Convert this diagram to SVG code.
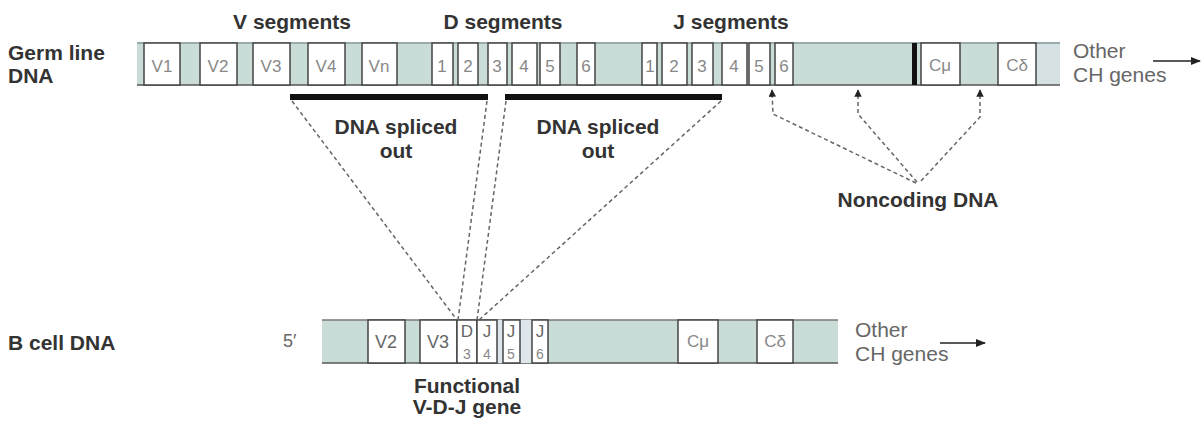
<svg xmlns="http://www.w3.org/2000/svg" width="1204" height="423" viewBox="0 0 1204 423">
<defs>
<marker id="ah" viewBox="0 0 10 10" refX="9" refY="5" markerWidth="5" markerHeight="5" orient="auto-start-reverse">
<path d="M0,0 L10,5 L0,10 z" fill="#222"/>
</marker>
<marker id="ar" viewBox="0 0 10 10" refX="9" refY="5" markerWidth="7" markerHeight="7" orient="auto">
<path d="M0,1 L10,5 L0,9 z" fill="#222"/>
</marker>
</defs>
<style>
.lbl{font-family:"Liberation Sans",Arial,sans-serif;font-weight:bold;font-size:21px;fill:#333}
.reg{font-family:"Liberation Sans",Arial,sans-serif;font-size:21px;fill:#666}
.box{fill:#fff;stroke:#444;stroke-width:1.5}
.bt{font-family:"Liberation Sans",Arial,sans-serif;font-size:17px;fill:#888;text-anchor:middle}
.bg{fill:#c9dcd8}
.dash{fill:none;stroke:#666;stroke-width:1.5;stroke-dasharray:4 3}
.bar{fill:#111}
</style>

<g id="germline-label">
<text class="lbl" x="8" y="60">Germ line</text>
<text class="lbl" x="8" y="83">DNA</text>
</g>
<g id="segment-headers">
<text class="lbl" x="292" y="29" text-anchor="middle">V segments</text>
<text class="lbl" x="503" y="29" text-anchor="middle">D segments</text>
<text class="lbl" x="731" y="29" text-anchor="middle">J segments</text>
</g>

<g id="germline-dna">
<rect class="bg" x="137" y="43" width="900" height="42"/>
<rect x="1036" y="43" width="24" height="42" fill="#d6e1e3"/>
<line x1="137" y1="43" x2="1060" y2="43" stroke="#9aa" stroke-width="2"/>
<line x1="137" y1="85" x2="1060" y2="85" stroke="#555" stroke-width="1.5"/>
<rect class="box" x="144" y="43" width="36" height="42"/><text class="bt" x="162" y="72">V1</text>
<rect class="box" x="200" y="43" width="37" height="42"/><text class="bt" x="218" y="72">V2</text>
<rect class="box" x="253" y="43" width="37" height="42"/><text class="bt" x="271" y="72">V3</text>
<rect class="box" x="308" y="43" width="37" height="42"/><text class="bt" x="326" y="72">V4</text>
<rect class="box" x="362" y="43" width="35" height="42"/><text class="bt" x="379" y="72">Vn</text>
<rect class="box" x="432" y="43" width="21" height="42"/><text class="bt" x="442" y="72">1</text>
<rect class="box" x="458" y="43" width="20" height="42"/><text class="bt" x="468" y="72">2</text>
<rect class="box" x="488" y="43" width="19" height="42"/><text class="bt" x="497" y="72">3</text>
<rect class="box" x="512" y="43" width="25" height="42"/><text class="bt" x="524" y="72">4</text>
<rect class="box" x="540" y="43" width="20" height="42"/><text class="bt" x="550" y="72">5</text>
<rect class="box" x="577" y="43" width="18" height="42"/><text class="bt" x="586" y="72">6</text>
<rect class="box" x="642" y="43" width="15" height="42"/><text class="bt" x="650" y="72">1</text>
<rect class="box" x="662" y="43" width="25" height="42"/><text class="bt" x="674" y="72">2</text>
<rect class="box" x="692" y="43" width="21" height="42"/><text class="bt" x="702" y="72">3</text>
<rect class="box" x="722" y="43" width="25" height="42"/><text class="bt" x="734" y="72">4</text>
<rect class="box" x="749" y="43" width="21" height="42"/><text class="bt" x="759" y="72">5</text>
<rect class="box" x="775" y="43" width="18" height="42"/><text class="bt" x="784" y="72">6</text>
<rect x="912" y="43" width="5" height="42" fill="#111"/>
<rect class="box" x="921" y="43" width="39" height="42"/><text class="bt" x="940" y="71">Cμ</text>
<rect class="box" x="998" y="43" width="38" height="42"/><text class="bt" x="1017" y="71">Cδ</text>
</g>

<g id="germline-other">
<text class="reg" x="1073" y="58">Other</text>
<text class="reg" x="1073" y="82">CH genes</text>
</g>

<g id="spliced-bars">
<rect class="bar" x="290" y="94" width="198" height="6"/>
<rect class="bar" x="505" y="94" width="217" height="6"/>
</g>
<g id="spliced-labels">
<text class="lbl" x="396" y="134" text-anchor="middle">DNA spliced</text>
<text class="lbl" x="396" y="158" text-anchor="middle">out</text>
<text class="lbl" x="598" y="134" text-anchor="middle">DNA spliced</text>
<text class="lbl" x="598" y="158" text-anchor="middle">out</text>
</g>

<g id="noncoding-label">
<text class="lbl" x="918" y="207" text-anchor="middle">Noncoding DNA</text>
</g>

<g id="bcell-label">
<text class="lbl" x="8" y="350">B cell DNA</text>
</g>

<g id="bcell-dna">
<text class="reg" x="283" y="347" style="font-size:18px">5′</text>
<rect class="bg" x="322" y="320" width="516" height="43"/>
<line x1="322" y1="320" x2="838" y2="320" stroke="#777" stroke-width="1.5"/>
<line x1="322" y1="363" x2="838" y2="363" stroke="#555" stroke-width="1.5"/>
<rect x="497" y="320" width="6" height="43" fill="#dde6ea"/>
<rect x="520" y="320" width="12" height="43" fill="#dde6ea"/>
<rect class="box" x="368" y="320" width="37" height="43"/><text class="bt" x="386" y="348" style="font-size:18px;fill:#666">V2</text>
<rect class="box" x="420" y="320" width="37" height="43"/><text class="bt" x="438" y="348" style="font-size:18px;fill:#666">V3</text>
<rect class="box" x="457" y="320" width="20" height="43"/>
<text class="bt" x="467" y="337" style="fill:#666">D</text><text class="bt" x="467" y="359" style="font-size:14px">3</text>
<rect class="box" x="477" y="320" width="20" height="43"/>
<text class="bt" x="487" y="337" style="fill:#666">J</text><text class="bt" x="487" y="359" style="font-size:14px">4</text>
<rect class="box" x="503" y="320" width="17" height="43"/>
<text class="bt" x="511" y="337" style="fill:#666">J</text><text class="bt" x="511" y="359" style="font-size:14px">5</text>
<rect class="box" x="532" y="320" width="16" height="43"/>
<text class="bt" x="540" y="337" style="fill:#666">J</text><text class="bt" x="540" y="359" style="font-size:14px">6</text>
<rect class="box" x="678" y="320" width="40" height="43"/><text class="bt" x="698" y="347">Cμ</text>
<rect class="box" x="757" y="320" width="36" height="43"/><text class="bt" x="775" y="347">Cδ</text>
</g>

<g id="bcell-other">
<text class="reg" x="855" y="337">Other</text>
<text class="reg" x="855" y="361">CH genes</text>
</g>

<g id="functional-label">
<text class="lbl" x="467" y="393" text-anchor="middle">Functional</text>
<text class="lbl" x="467" y="414" text-anchor="middle">V-D-J gene</text>
</g>

<g id="connectors">
<line class="dash" x1="292" y1="101" x2="457" y2="320"/>
<line class="dash" x1="487" y1="101" x2="458" y2="320"/>
<line class="dash" x1="506" y1="101" x2="477" y2="320"/>
<line class="dash" x1="721" y1="101" x2="479" y2="320"/>
<polyline class="dash" points="916,183 773,114 772,90" marker-end="url(#ah)"/>
<polyline class="dash" points="917,182 858,114 858,90" marker-end="url(#ah)"/>
<polyline class="dash" points="921,181 980,117 980,90" marker-end="url(#ah)"/>
<line x1="1153" y1="61" x2="1200" y2="61" stroke="#222" stroke-width="1.5" marker-end="url(#ar)"/>
<line x1="940" y1="343" x2="985" y2="343" stroke="#222" stroke-width="1.5" marker-end="url(#ar)"/>
</g>
</svg>
